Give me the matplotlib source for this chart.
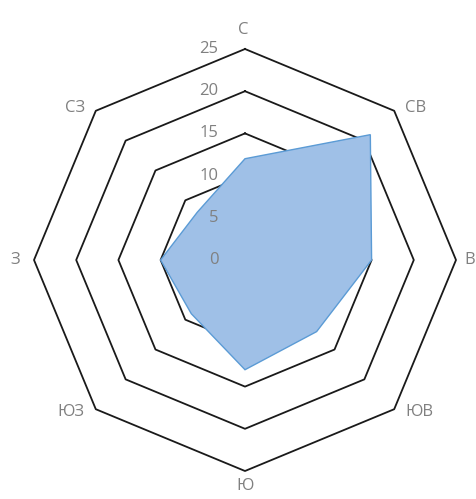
import numpy as np
import matplotlib
matplotlib.use("Agg")
import matplotlib.pyplot as plt

categories = ["С", "СВ", "В", "ЮВ", "Ю", "ЮЗ", "З", "СЗ"]
values = [12, 21, 15, 12, 13, 9, 10, 8]
ticks = [0, 5, 10, 15, 20, 25]
grid_levels = [5, 10, 15, 20, 25]

plt.rcParams['font.family'] = ['Open Sans', 'DejaVu Sans']

fig = plt.figure(figsize=(4.77, 4.99), dpi=100)
W, H = 477, 499
cx, cy, R = 245, 260, 211
ax = fig.add_axes([(cx - R) / W, (H - cy - R) / H, 2 * R / W, 2 * R / H], projection='polar')
ax.set_theta_zero_location('N')
ax.set_theta_direction(-1)
ax.set_ylim(0, 25)
ax.grid(False)
ax.spines['polar'].set_visible(False)
ax.set_xticks([])
ax.set_yticks([])
ax.patch.set_alpha(0)

n = len(categories)
theta = np.arange(n) * 2 * np.pi / n
tc = np.concatenate([theta, theta[:1]])

for lv in grid_levels:
    ax.plot(tc, [lv] * (n + 1), color='#1a1a1a', lw=1.3, zorder=1, clip_on=False)

vc = values + values[:1]
ax.fill(tc, vc, facecolor='#9fc0e7', edgecolor='#5b9bd5', lw=1.0, zorder=2)

tick_color = '#808080'
for t in ticks:
    ax.annotate(str(t), xy=(0, t), xytext=(-19, 0), textcoords='offset points',
                ha='right', va='center', fontsize=12, color=tick_color, zorder=3)

offs = {0: (-1, 8, 'center', 'bottom'), 1: (8, 2, 'left', 'center'), 2: (6, 0, 'left', 'center'),
        3: (8, -2, 'left', 'center'), 4: (0, -5, 'center', 'top'), 5: (-8, -2, 'right', 'center'),
        6: (-10, 0, 'right', 'center'), 7: (-8, 2, 'right', 'center')}
for i, lab in enumerate(categories):
    dx, dy, ha, va = offs[i]
    ax.annotate(lab, xy=(theta[i], 25), xytext=(dx, dy), textcoords='offset points',
                ha=ha, va=va, fontsize=12, color=tick_color, annotation_clip=False)

fig.savefig('out.png', dpi=100)
